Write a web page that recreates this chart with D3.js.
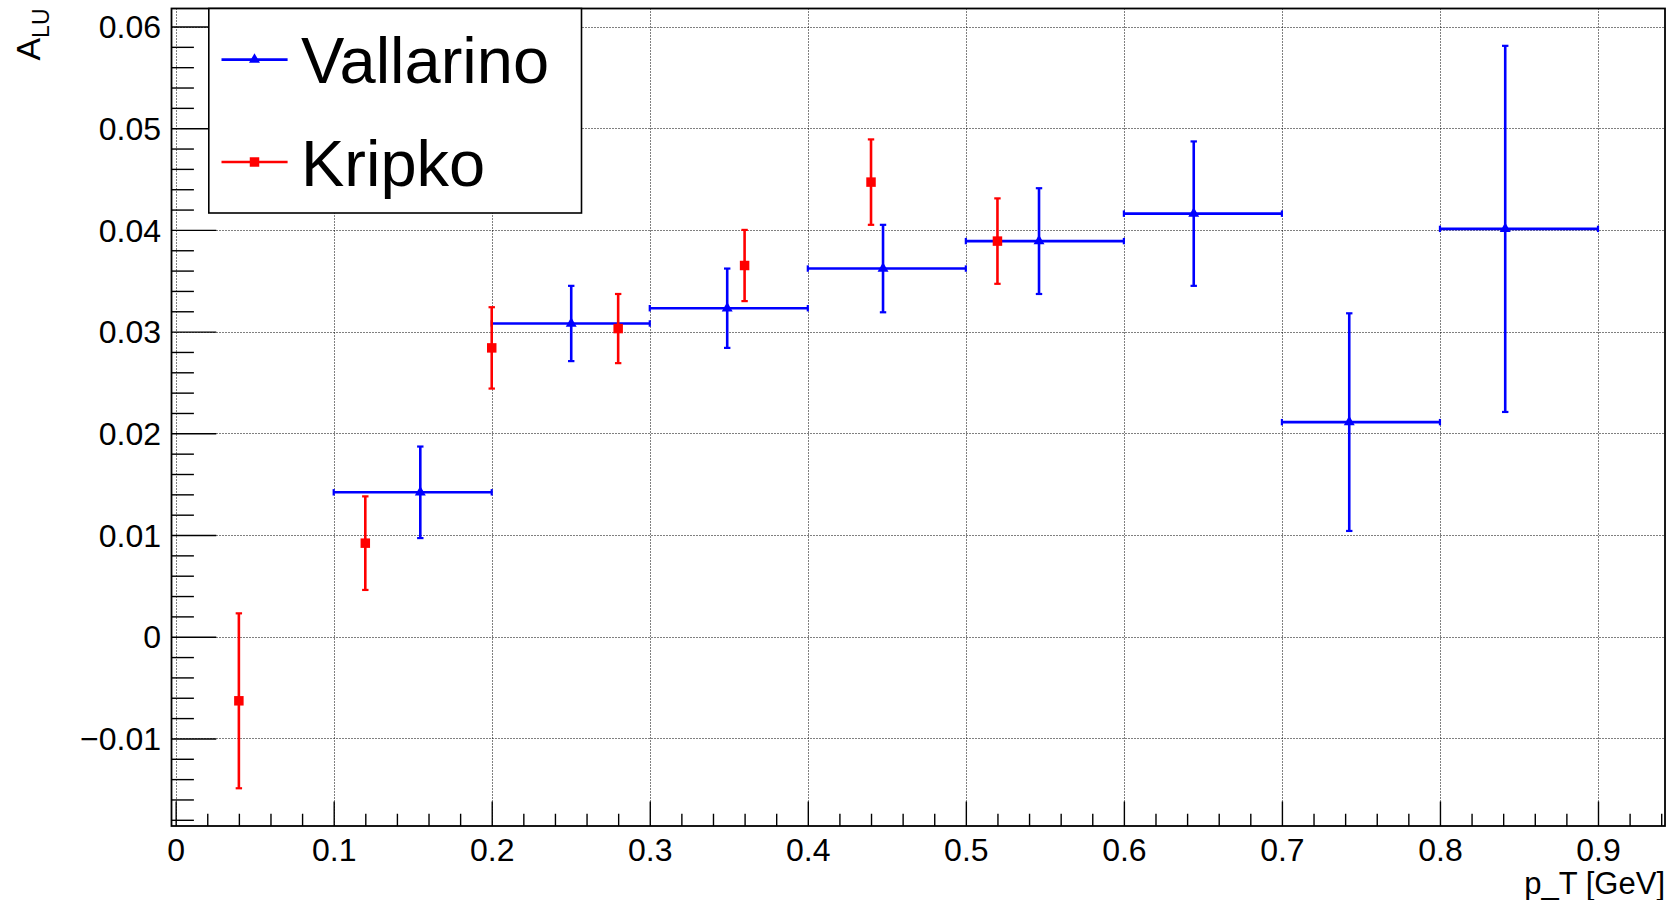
<!DOCTYPE html>
<html>
<head>
<meta charset="utf-8">
<script src="https://cdn.jsdelivr.net/npm/d3@7"></script>
<style>
  html, body { margin: 0; padding: 0; background: #fff; }
  svg { display: block; }
  text { font-family: "Liberation Sans", Arial, Helvetica, sans-serif; fill: #000; }
</style>
</head>
<body>
<svg id="chart" width="1670" height="900"></svg>
<script>
// Vallarino: point position, bin edges, asymmetry and its uncertainty
const vallarinoX    = [0.1548, 0.2503, 0.3490, 0.4476, 0.5463, 0.6442, 0.7426, 0.8413];
const vallarinoLow  = [0.1, 0.2, 0.3, 0.4, 0.5, 0.6, 0.7, 0.8];
const vallarinoHigh = [0.2, 0.3, 0.4, 0.5, 0.6, 0.7, 0.8, 0.9];
const vallarinoY    = [0.0142, 0.0308, 0.0323, 0.0362, 0.0389, 0.0416, 0.0211, 0.0401];
const vallarinoErr  = [0.0045, 0.0037, 0.0039, 0.0043, 0.0052, 0.0071, 0.0107, 0.0180];

// Kripko: point position, asymmetry and its uncertainty
const kripkoX   = [0.04, 0.12, 0.20, 0.28, 0.36, 0.44, 0.52];
const kripkoY   = [-0.0063, 0.0092, 0.0284, 0.0303, 0.0365, 0.0447, 0.0389];
const kripkoErr = [0.0086, 0.0046, 0.0040, 0.0034, 0.0035, 0.0042, 0.0042];

// axis ticks and their labels
const xTicks      = [0, 0.1, 0.2, 0.3, 0.4, 0.5, 0.6, 0.7, 0.8, 0.9];
const xTickLabels = ["0", "0.1", "0.2", "0.3", "0.4", "0.5", "0.6", "0.7", "0.8", "0.9"];
const yTicks      = [-0.01, 0, 0.01, 0.02, 0.03, 0.04, 0.05, 0.06];
const yTickLabels = ["\u22120.01", "0", "0.01", "0.02", "0.03", "0.04", "0.05", "0.06"];

const seriesNames  = ["Vallarino", "Kripko"];
const seriesColors = ["#0000ff", "#ff0000"];

const xDomain = [-0.00263, 0.9424];
const yDomain = [-0.01861, 0.06177];

const frame = { left: 171.5, right: 1665, top: 8.5, bottom: 826 };

const svg = d3.select("#chart");
svg.append("rect").attr("width", 1670).attr("height", 900).attr("fill", "#fff");

const x = d3.scaleLinear().domain(xDomain).range([frame.left, frame.right]);
const y = d3.scaleLinear().domain(yDomain).range([frame.bottom, frame.top]);

const round3 = v => Math.round(v * 1000) / 1000;
const xMinor = d3.range(0, 0.9425, 0.02).map(round3)
  .filter(v => !xTicks.some(t => Math.abs(t - v) < 1e-9));
const yMinor = d3.range(-0.018, 0.0617, 0.002).map(v => Math.round(v * 10000) / 10000)
  .filter(v => !yTicks.some(t => Math.abs(t - v) < 1e-9) && v >= yDomain[0] && v <= yDomain[1]);

// dotted grid
const grid = svg.append("g").attr("stroke", "#000").attr("stroke-width", 1)
  .attr("stroke-dasharray", "1,2");
grid.selectAll("line.gx").data(xTicks).join("line")
  .attr("x1", d => Math.round(x(d)) + 0.5).attr("x2", d => Math.round(x(d)) + 0.5)
  .attr("y1", frame.top).attr("y2", frame.bottom);
grid.selectAll("line.gy").data(yTicks).join("line")
  .attr("y1", d => Math.round(y(d)) + 0.5).attr("y2", d => Math.round(y(d)) + 0.5)
  .attr("x1", frame.left).attr("x2", frame.right);

// axes: major and minor ticks pointing into the frame
const plotW = frame.right - frame.left;
const plotH = frame.bottom - frame.top;
const xMajorLen = 0.03 * plotH, yMajorLen = 0.03 * plotW;

svg.append("g").attr("transform", `translate(0,${frame.bottom})`)
  .call(d3.axisBottom(x).tickValues(xTicks).tickSize(-xMajorLen).tickPadding(12)
    .tickFormat((d, i) => xTickLabels[i]));
svg.append("g").attr("transform", `translate(0,${frame.bottom})`)
  .call(d3.axisBottom(x).tickValues(xMinor).tickSize(-xMajorLen / 2).tickFormat(""));

const yAxis = svg.append("g").attr("transform", `translate(${frame.left},0)`)
  .call(d3.axisLeft(y).tickValues(yTicks).tickSize(-yMajorLen).tickPadding(10.5)
    .tickFormat((d, i) => yTickLabels[i]));
svg.append("g").attr("transform", `translate(${frame.left},0)`)
  .call(d3.axisLeft(y).tickValues(yMinor).tickSize(-yMajorLen / 2).tickFormat(""));

svg.selectAll(".domain").remove();
svg.selectAll(".tick line").attr("stroke", "#000").attr("stroke-width", 1.4);
svg.selectAll(".tick text").attr("font-size", 32).attr("font-family", "\"Liberation Sans\", Arial, sans-serif");
yAxis.selectAll(".tick text").attr("dy", "0.35em");

// frame
svg.append("rect")
  .attr("x", frame.left).attr("y", frame.top)
  .attr("width", plotW).attr("height", plotH)
  .attr("fill", "none").attr("stroke", "#000").attr("stroke-width", 1.8);

// axis titles
svg.append("text")
  .attr("x", frame.right).attr("y", 894)
  .attr("text-anchor", "end").attr("font-size", 31)
  .text("p_T [GeV]");

const yTitle = svg.append("text")
  .attr("transform", `translate(40,${frame.top}) rotate(-90)`)
  .attr("text-anchor", "end").attr("font-size", 34);
yTitle.append("tspan").text("A");
yTitle.append("tspan").attr("font-size", 23).attr("dy", 9).text("LU");

// error bars and markers
const lw = 2.6, cap = 3.2, capW = 2.2;

function vErr(g, cx, cy, e, color) {
  g.append("line").attr("x1", x(cx)).attr("x2", x(cx))
    .attr("y1", y(cy - e)).attr("y2", y(cy + e))
    .attr("stroke", color).attr("stroke-width", lw);
  [cy - e, cy + e].forEach(v => {
    g.append("line").attr("x1", x(cx) - cap).attr("x2", x(cx) + cap)
      .attr("y1", y(v)).attr("y2", y(v))
      .attr("stroke", color).attr("stroke-width", capW);
  });
}
function hErr(g, lo, hi, cy, color) {
  g.append("line").attr("x1", x(lo)).attr("x2", x(hi))
    .attr("y1", y(cy)).attr("y2", y(cy))
    .attr("stroke", color).attr("stroke-width", lw);
  [lo, hi].forEach(v => {
    g.append("line").attr("x1", x(v)).attr("x2", x(v))
      .attr("y1", y(cy) - cap).attr("y2", y(cy) + cap)
      .attr("stroke", color).attr("stroke-width", capW);
  });
}

const triangle = d3.symbol().type(d3.symbolTriangle).size(52);
const square = d3.symbol().type(d3.symbolSquare).size(90);

const gV = svg.append("g");
vallarinoX.forEach((vx, i) => {
  hErr(gV, vallarinoLow[i], vallarinoHigh[i], vallarinoY[i], seriesColors[0]);
  vErr(gV, vx, vallarinoY[i], vallarinoErr[i], seriesColors[0]);
});
gV.selectAll("path").data(vallarinoX).join("path")
  .attr("d", triangle)
  .attr("transform", (d, i) => `translate(${x(d)},${y(vallarinoY[i])})`)
  .attr("fill", seriesColors[0]);

const gK = svg.append("g");
kripkoX.forEach((kx, i) => vErr(gK, kx, kripkoY[i], kripkoErr[i], seriesColors[1]));
gK.selectAll("path").data(kripkoX).join("path")
  .attr("d", square)
  .attr("transform", (d, i) => `translate(${x(d)},${y(kripkoY[i])})`)
  .attr("fill", seriesColors[1]);

// legend
const legend = svg.append("g");
legend.append("rect")
  .attr("x", 208.8).attr("y", frame.top)
  .attr("width", 581.5 - 208.8).attr("height", 213 - frame.top)
  .attr("fill", "#fff").attr("stroke", "#000").attr("stroke-width", 1.6);

const legendRows = [59.6, 162];
const legendMarkers = [triangle, square];
seriesNames.forEach((name, i) => {
  const ly = legendRows[i];
  legend.append("line").attr("x1", 221.5).attr("x2", 287.6)
    .attr("y1", ly).attr("y2", ly)
    .attr("stroke", seriesColors[i]).attr("stroke-width", 2.6);
  legend.append("path").attr("d", legendMarkers[i])
    .attr("transform", `translate(254.5,${ly})`)
    .attr("fill", seriesColors[i]);
  legend.append("text")
    .attr("x", 301).attr("y", ly + 23.5)
    .attr("font-size", 65)
    .text(name);
});
</script>
</body>
</html>
